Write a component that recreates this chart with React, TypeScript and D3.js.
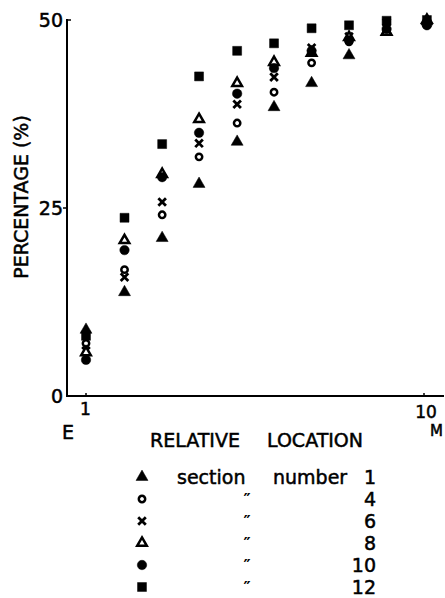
import React from 'react';
import * as d3 from 'd3';

// relative location (log axis, E = 1 ... M = 10)
const locations = [1, 1.3, 1.68, 2.16, 2.8, 3.6, 4.65, 6.0, 7.75, 10.2];

// percentage per section number
const section1 = [8.8, 13.8, 21.0, 28.2, 33.8, 38.4, 41.6, 45.3, 48.4, 49.8];
const section4 = [7.0, 16.8, 24.1, 31.8, 36.3, 40.4, 44.3, 47.1, 48.5, 49.3];
const section6 = [6.0, 15.8, 25.8, 33.6, 38.8, 42.4, 46.3, 47.8, 49.7, 49.5];
const section8 = [5.8, 20.7, 29.5, 36.8, 41.6, 44.4, 45.6, 47.7, 48.4, 50.0];
const section10 = [4.8, 19.4, 29.1, 35.0, 40.2, 43.6, 45.9, 47.3, 48.8, 49.3];
const section12 = [8.0, 23.7, 33.5, 42.5, 45.9, 46.9, 48.9, 49.3, 49.9, 50.0];

const sectionNames = ['1', '4', '6', '8', '10', '12'];
const yTicks = [0, 25, 50];

const series = [
  { name: '1', values: section1, shape: 'tri', filled: true },
  { name: '4', values: section4, shape: 'circle', filled: false },
  { name: '6', values: section6, shape: 'x', filled: false },
  { name: '8', values: section8, shape: 'tri', filled: false },
  { name: '10', values: section10, shape: 'circle', filled: true },
  { name: '12', values: section12, shape: 'square', filled: true },
];

const font = '"DejaVu Sans", sans-serif';

function Marker({ x, y, shape, filled }: { x: number; y: number; shape: string; filled: boolean }) {
  if (shape === 'x') {
    const r = 3.8;
    return (
      <path
        d={`M${x - r},${y - r}L${x + r},${y + r}M${x - r},${y + r}L${x + r},${y - r}`}
        stroke="#000"
        strokeWidth={2.8}
        fill="none"
      />
    );
  }
  let sym: d3.SymbolType = d3.symbolSquare;
  let size = 80;
  if (shape === 'tri') {
    sym = d3.symbolTriangle;
    size = filled ? 62 : 40;
  }
  if (shape === 'circle') {
    sym = d3.symbolCircle;
    size = filled ? 70 : 32;
  }
  const d = d3.symbol(sym, size)() || '';
  return (
    <path
      d={d}
      transform={`translate(${x},${y})`}
      fill={filled ? '#000' : '#fff'}
      stroke="#000"
      strokeWidth={filled ? 0.5 : 2.5}
    />
  );
}

export default function App() {
  const x = d3.scaleLog().domain([1, 10]).range([86, 424]);
  const y = d3.scaleLinear().domain([0, 50]).range([396, 20]);

  const legendY = d3.scalePoint<string>().domain(sectionNames).range([477, 587]);

  const txt = { stroke: '#000', strokeWidth: 0.5 };

  return (
    <svg
      width={445}
      height={598}
      style={{ position: 'absolute', left: 0, top: 0, background: '#fff' }}
      fontFamily={font}
    >
      {/* axes */}
      <line x1={67} y1={y(50) - 1} x2={67} y2={y(0)} stroke="#000" strokeWidth={2} />
      <line x1={66} y1={y(0)} x2={444} y2={y(0)} stroke="#000" strokeWidth={2} />
      <line x1={67} y1={y(50)} x2={71} y2={y(50)} stroke="#000" strokeWidth={1.5} />
      <line x1={63} y1={y(25)} x2={67} y2={y(25)} stroke="#000" strokeWidth={1.5} />
      <line x1={x(1)} y1={y(0)} x2={x(1)} y2={y(0) - 3} stroke="#000" strokeWidth={1.5} />
      <line x1={x(10)} y1={y(0)} x2={x(10)} y2={y(0) - 3} stroke="#000" strokeWidth={1.5} />

      {yTicks.map((t) => (
        <text key={t} x={63} y={y(t)} dy="0.36em" textAnchor="end" fontSize={19} {...txt}>
          {t}
        </text>
      ))}

      <text x={x(1) - 6} y={415} fontSize={17} {...txt}>1</text>
      <text x={62} y={439} fontSize={19} {...txt}>E</text>
      <text x={x(10) + 2} y={418} textAnchor="middle" fontSize={17} {...txt}>10</text>
      <text x={430} y={436} fontSize={15} {...txt}>M</text>

      <text x={150} y={447} fontSize={19} {...txt}>RELATIVE</text>
      <text x={267} y={447} fontSize={19} {...txt}>LOCATION</text>

      <text
        transform="translate(28,197) rotate(-90)"
        textAnchor="middle"
        fontSize={19}
        {...txt}
      >
        PERCENTAGE (%)
      </text>

      {/* points */}
      {series.map((s) =>
        s.values.map((v, i) => (
          <Marker
            key={s.name + '-' + i}
            x={x(locations[i])}
            y={y(v)}
            shape={s.shape}
            filled={s.filled}
          />
        ))
      )}

      {/* legend */}
      {series.map((s, i) => {
        const ly = legendY(s.name) || 0;
        return (
          <g key={'leg' + s.name}>
            <Marker x={142} y={ly} shape={s.shape} filled={s.filled} />
            {i === 0 ? (
              <>
                <text x={177} y={ly} dy="0.36em" fontSize={19} {...txt}>section</text>
                <text x={273} y={ly} dy="0.36em" fontSize={19} {...txt}>number</text>
              </>
            ) : (
              <text x={247} y={ly} dy="0.4em" fontSize={16} fontWeight="bold" textAnchor="middle">″</text>
            )}
            <text x={376} y={ly} dy="0.36em" textAnchor="end" fontSize={19} {...txt}>
              {s.name}
            </text>
          </g>
        );
      })}
    </svg>
  );
}
